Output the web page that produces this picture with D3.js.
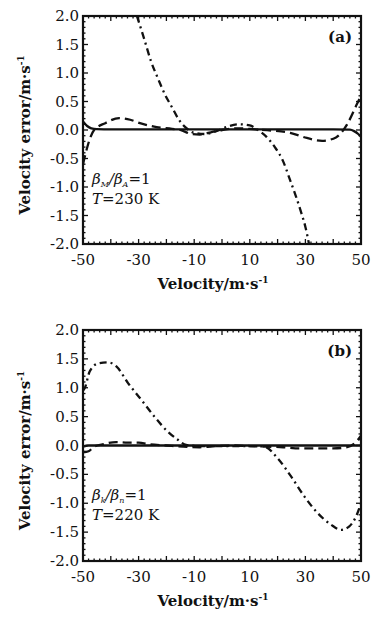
<!DOCTYPE html>
<html>
<head>
<meta charset="utf-8">
<script src="https://cdn.jsdelivr.net/npm/d3@7"></script>
<style>
  body { margin: 0; background: #fff; }
  svg text { font-family: "DejaVu Serif", "Liberation Serif", serif; fill: #111; }
</style>
</head>
<body>
<svg id="chart" width="373" height="617"></svg>
<script>
// tick labels
const xTicks = [-50, -30, -10, 10, 30, 50];
const yTicks = [2.0, 1.5, 1.0, 0.5, 0.0, -0.5, -1.0, -1.5, -2.0];

// panel (a), T = 230 K  -- [velocity, error]
const solidA = [[-50, 0.15], [-48.5, 0.07], [-47, 0.03], [-45, 0.015], [-40, 0.01], [-20, 0.01], [0, 0.01], [20, 0.01], [40, 0.01], [46, 0.005], [47.5, -0.02], [49, -0.07], [50, -0.12]];
const dashA = [[-50, -0.6], [-49, -0.4], [-47.5, -0.15], [-46, 0.0], [-42, 0.12], [-37, 0.21], [-33, 0.18], [-29.5, 0.12], [-23.5, 0.05], [-18, 0.02], [-15, 0.0], [-11, -0.07], [-8, -0.08], [-4, -0.04], [0, 0.0], [6, 0.03], [12, 0.01], [18, -0.01], [24.5, -0.05], [30.5, -0.14], [36, -0.19], [41, -0.13], [45, 0.1], [48.5, 0.45], [50, 0.6]];
const dashDotA = [[-30.6, 2.0], [-28, 1.6], [-25.5, 1.2], [-23, 0.9], [-20.5, 0.62], [-18, 0.4], [-15.5, 0.18], [-13, 0.04], [-10, -0.05], [-6, -0.07], [-2, -0.02], [2, 0.06], [6, 0.1], [10, 0.08], [13, 0.0], [16, -0.12], [19, -0.3], [22, -0.55], [24.5, -0.88], [26.5, -1.15], [28.5, -1.45], [30, -1.7], [31.3, -2.0]];

// panel (b), T = 220 K
const solidB = [[-50, -0.02], [-48, 0.0], [-40, 0.0], [0, 0.0], [40, 0.0], [50, 0.0]];
const dashB = [[-50, -0.12], [-48, -0.1], [-46, -0.02], [-43, 0.02], [-38, 0.06], [-34, 0.05], [-30, 0.05], [-26, 0.02], [-20, 0.0], [-14, -0.02], [-8, -0.03], [-2, -0.01], [4, 0.0], [10, -0.01], [16, -0.02], [22, -0.03], [28, -0.05], [34, -0.05], [40, -0.05], [45, -0.03], [48, 0.05], [50, 0.17]];
const dashDotB = [[-50, 0.95], [-49.4, 0.99], [-47.6, 1.28], [-44.6, 1.42], [-41, 1.44], [-38, 1.37], [-33.8, 1.08], [-29, 0.79], [-24.3, 0.5], [-19.5, 0.24], [-15.9, 0.1], [-12.9, 0.01], [-8, -0.01], [0, -0.01], [8, -0.01], [12, -0.01], [15.3, -0.02], [20, -0.22], [24.9, -0.54], [29.6, -0.88], [34.4, -1.17], [39.2, -1.37], [42.8, -1.46], [45.8, -1.4], [48.2, -1.23], [50, -1.0]];

const svg = d3.select('#chart');

const panels = [
  { id: 'a', top: 16, bottom: 244, solid: solidA, dash: dashA, dashDot: dashDotA,
    ratio: ['M', 'A'], temp: '230' },
  { id: 'b', top: 330, bottom: 561, solid: solidB, dash: dashB, dashDot: dashDotB,
    ratio: ['k', 'n'], temp: '220' }
];

const left = 83, right = 361;

panels.forEach(p => {
  const x = d3.scaleLinear().domain([-50, 50]).range([left, right]);
  const y = d3.scaleLinear().domain([-2, 2]).range([p.bottom, p.top]);
  const g = svg.append('g');

  g.append('clipPath').attr('id', 'clip-' + p.id)
    .append('rect').attr('x', left).attr('y', p.top)
    .attr('width', right - left).attr('height', p.bottom - p.top);

  // minor + major ticks, inward on all sides
  const minorX = d3.range(-50, 50.1, 2);
  const minorY = d3.range(-2, 2.01, 0.1);
  minorX.forEach(v => {
    const major = Math.abs(Math.round(v) % 10) === 0;
    const len = major ? 5 : 2.5;
    g.append('line').attr('x1', x(v)).attr('x2', x(v)).attr('y1', p.bottom).attr('y2', p.bottom - len)
      .attr('stroke', '#111').attr('stroke-width', 1.3);
    g.append('line').attr('x1', x(v)).attr('x2', x(v)).attr('y1', p.top).attr('y2', p.top + len)
      .attr('stroke', '#111').attr('stroke-width', 1.3);
  });
  minorY.forEach(v => {
    const major = Math.abs(Math.round(v * 10) % 5) === 0;
    const len = major ? 5 : 2.5;
    g.append('line').attr('x1', left).attr('x2', left + len).attr('y1', y(v)).attr('y2', y(v))
      .attr('stroke', '#111').attr('stroke-width', 1.3);
    g.append('line').attr('x1', right).attr('x2', right - len).attr('y1', y(v)).attr('y2', y(v))
      .attr('stroke', '#111').attr('stroke-width', 1.3);
  });

  // frame
  g.append('rect').attr('x', left).attr('y', p.top)
    .attr('width', right - left).attr('height', p.bottom - p.top)
    .attr('fill', 'none').attr('stroke', '#111').attr('stroke-width', 2.2);

  // tick labels
  g.selectAll('.xt').data(xTicks).enter().append('text')
    .attr('x', d => x(d)).attr('y', p.bottom + 21)
    .attr('text-anchor', 'middle').attr('font-size', 15)
    .text(d => d);
  g.selectAll('.yt').data(yTicks).enter().append('text')
    .attr('x', left - 4).attr('y', d => y(d) + 5)
    .attr('text-anchor', 'end').attr('font-size', 15)
    .text(d => d.toFixed(1));

  // axis titles
  const xl = g.append('text').attr('x', 213).attr('y', p.bottom + 45)
    .attr('text-anchor', 'middle').attr('font-size', 15).attr('font-weight', 'bold');
  xl.append('tspan').text('Velocity/m·s');
  xl.append('tspan').attr('dy', -6).attr('font-size', 9).text('-1');

  const cy = (p.top + p.bottom) / 2 + 5;
  const yl = g.append('text').attr('transform', `translate(30,${cy}) rotate(-90)`)
    .attr('text-anchor', 'middle').attr('font-size', 15).attr('font-weight', 'bold');
  yl.append('tspan').text('Velocity error/m·s');
  yl.append('tspan').attr('dy', -6).attr('font-size', 9).text('-1');

  // curves
  const line = d3.line().x(d => x(d[0])).y(d => y(d[1])).curve(d3.curveMonotoneX);
  const plot = g.append('g').attr('clip-path', `url(#clip-${p.id})`);
  plot.append('path').attr('d', line(p.solid)).attr('fill', 'none')
    .attr('stroke', '#111').attr('stroke-width', 2.3);
  plot.append('path').attr('d', line(p.dash)).attr('fill', 'none')
    .attr('stroke', '#111').attr('stroke-width', 2.3).attr('stroke-dasharray', '9,5');
  plot.append('path').attr('d', line(p.dashDot)).attr('fill', 'none')
    .attr('stroke', '#111').attr('stroke-width', 2.3).attr('stroke-dasharray', '7,4,2,4');

  // panel tag
  g.append('text').attr('x', 352).attr('y', p.top + 26).attr('text-anchor', 'end')
    .attr('font-size', 15).attr('font-weight', 'bold').text(`(${p.id})`);

  // annotation
  const ay = y(-0.95);
  const t1 = g.append('text').attr('x', 92).attr('y', ay).attr('font-size', 15).attr('font-style', 'italic');
  t1.append('tspan').text('β');
  t1.append('tspan').attr('dy', 3).attr('font-size', 8).text(p.ratio[0]);
  t1.append('tspan').attr('dy', -3).text('/β');
  t1.append('tspan').attr('dy', 3).attr('font-size', 8).text(p.ratio[1]);
  t1.append('tspan').attr('dy', -3).attr('font-style', 'normal').text('=1');
  const t2 = g.append('text').attr('x', 92).attr('y', ay + 20).attr('font-size', 15);
  t2.append('tspan').attr('font-style', 'italic').text('T');
  t2.append('tspan').text(`=${p.temp}  K`);
});
</script>
</body>
</html>
